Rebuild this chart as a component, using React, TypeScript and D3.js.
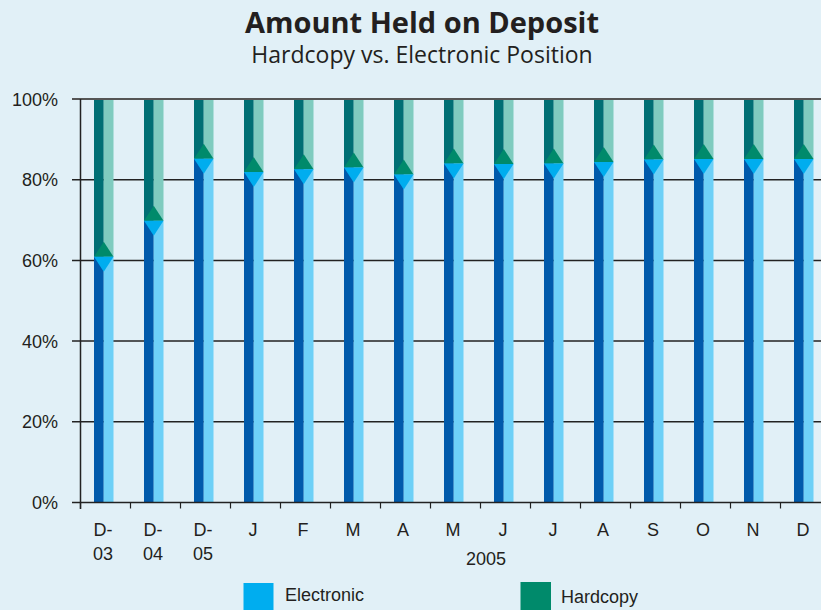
import React from "react";
import * as d3 from "d3";

const categories = ["D-03", "D-04", "D-05", "J", "F", "M", "A", "M2", "J2", "J3", "A2", "S", "O", "N", "D"];
const labels = [["D-", "03"], ["D-", "04"], ["D-", "05"], ["J"], ["F"], ["M"], ["A"], ["M"], ["J"], ["J"], ["A"], ["S"], ["O"], ["N"], ["D"]];
const electronic = [60.9, 69.8, 85.2, 81.9, 82.6, 83.0, 81.3, 84.0, 83.9, 84.0, 84.4, 85.0, 85.1, 85.1, 85.1];
const yTicks = [0, 20, 40, 60, 80, 100];

const W = 821;
const H = 610;
const BG = "#e1f0f7";
const C = {
  darkTeal: "#006f74",
  lightGreen: "#7fcbbf",
  greenTri: "#008a6b",
  blueTri: "#00adef",
  darkBlue: "#005aab",
  lightBlue: "#6dd0f7",
};

export default function App() {
  const x = d3.scaleBand<string>().domain(categories).range([80, 830]).paddingInner(0).paddingOuter(0);
  const y = d3.scaleLinear().domain([0, 100]).range([502.5, 99]);
  const step = x.step();
  const barW = 19.5;
  const off = 14;
  const triH = 15;
  const sans = "'Liberation Sans', Arial, sans-serif";

  return (
    <svg width={W} height={H} style={{ position: "absolute", left: 0, top: 0, display: "block" }}>
      <rect x={0} y={0} width={W} height={H} fill={BG} />
      <text x={422} y={33} textAnchor="middle" fontFamily="'Open Sans', sans-serif" fontWeight="bold" fontSize={29} fill="#231f20">
        Amount Held on Deposit
      </text>
      <text x={422} y={63} textAnchor="middle" fontFamily="'Open Sans', sans-serif" fontSize={23} fill="#231f20">
        Hardcopy vs. Electronic Position
      </text>
      {yTicks.filter((t) => t > 0 && t < 100).map((t) => (
        <line key={t} x1={72} x2={W} y1={y(t)} y2={y(t)} stroke="#222" strokeWidth={1.5} />
      ))}
      {categories.map((c, i) => {
        const x0 = (x(c) as number) + off;
        const xm = x0 + barW / 2;
        const x1 = x0 + barW;
        const yb = y(electronic[i]);
        const yt = y(100);
        const y0 = y(0);
        return (
          <g key={c}>
            <rect x={x0} y={yt} width={barW / 2} height={yb - yt} fill={C.darkTeal} />
            <rect x={xm} y={yt} width={barW / 2} height={yb - yt} fill={C.lightGreen} />
            <rect x={x0} y={yb} width={barW / 2} height={y0 - yb} fill={C.darkBlue} />
            <rect x={xm} y={yb} width={barW / 2} height={y0 - yb} fill={C.lightBlue} />
            <path d={`M${x0},${yb}L${x1},${yb}L${xm},${yb - triH}Z`} fill={C.greenTri} />
            <path d={`M${x0},${yb}L${x1},${yb}L${xm},${yb + triH}Z`} fill={C.blueTri} />
          </g>
        );
      })}
      <line x1={72} x2={W} y1={y(100)} y2={y(100)} stroke="#555" strokeWidth={2} />
      <line x1={80.5} x2={80.5} y1={y(100)} y2={509} stroke="#222" strokeWidth={1.5} />
      <line x1={72} x2={W} y1={y(0)} y2={y(0)} stroke="#222" strokeWidth={1.5} />
      {categories.map((c) => {
        const tx = (x(c) as number) + 0.5;
        return <line key={"t" + c} x1={tx} x2={tx} y1={y(0)} y2={508.5} stroke="#222" strokeWidth={1.2} />;
      })}
      {yTicks.map((t) => (
        <text key={"yl" + t} x={58} y={y(t) + 6.5} textAnchor="end" fontFamily={sans} fontSize={18} fill="#231f20">
          {t}%
        </text>
      ))}
      {categories.map((c, i) => {
        const cx = (x(c) as number) + step / 2 - 2;
        return (
          <text key={"xl" + c} x={cx} textAnchor="middle" fontFamily={sans} fontSize={18} fill="#231f20">
            {labels[i].map((l, j) => (
              <tspan key={j} x={cx} y={536 + j * 24}>
                {l}
              </tspan>
            ))}
          </text>
        );
      })}
      <text x={486} y={565} textAnchor="middle" fontFamily={sans} fontSize={18} fill="#231f20">
        2005
      </text>
      <rect x={243.5} y={583} width={30} height={30} fill={C.blueTri} />
      <text x={285} y={601} fontFamily={sans} fontSize={18} fill="#231f20">Electronic</text>
      <rect x={520.5} y={582} width={30.5} height={30} fill={C.greenTri} />
      <text x={561} y={603} fontFamily={sans} fontSize={18} fill="#231f20">Hardcopy</text>
    </svg>
  );
}
